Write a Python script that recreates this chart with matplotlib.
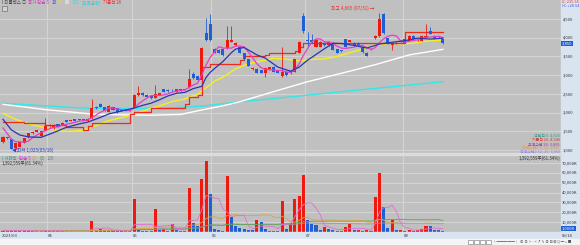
import matplotlib.pyplot as plt
import numpy as np
import pandas as pd
from matplotlib import transforms
from matplotlib.patches import Rectangle

plt.rcParams['font.family'] = ['Noto Sans CJK KR', 'DejaVu Sans']

# Daily candles (won)
opens = [1225, 1350, 1290, 1045, 1090, 1200, 1340, 1445, 1490, 1380,
         1520, 1650, 1580, 1686, 1668, 1800, 1775, 1820, 1830, 1820,
         1784, 1846, 2140, 2220, 2140, 2023, 2140, 2113, 2060, 2080,
         2075, 2130, 2470, 2532, 2470, 2443, 2398, 2470, 2621, 2600,
         2600, 2558, 2585, 2600, 2675, 3031, 2977, 2870, 4134, 4367,
         3691, 3672, 3691, 3717, 3894, 3806, 3761, 3584, 3420, 3160,
         3164, 3130, 3050, 3156, 3225, 3137, 2990, 3090, 3050, 3090,
         3600, 4589, 3950, 3940, 3760, 3760, 3868, 3806, 3868, 3690,
         3660, 3957, 3894, 3868, 3868, 3745, 3600, 3690, 3984, 4046,
         4634, 3984, 3806, 3850, 3920, 3957, 3920, 4046, 3930, 3920,
         4030, 4180, 4046, 4010, 3957]
highs = [1380, 1360, 1300, 1190, 1230, 1320, 1460, 1500, 1545, 1520,
         1846, 1700, 1690, 1700, 1740, 1810, 1800, 1830, 1840, 1830,
         1850, 2363, 2180, 2260, 2160, 2190, 2160, 2130, 2080, 2090,
         2090, 2490, 2710, 2560, 2490, 2460, 2737, 2530, 2640, 2620,
         2620, 2640, 2630, 2640, 3156, 3080, 3000, 3750, 4519, 4634,
         3720, 3690, 3710, 4313, 4313, 3890, 3780, 3600, 3440, 3220,
         3180, 3150, 3200, 3230, 3240, 3150, 3760, 3110, 3120, 3440,
         3910, 4650, 4160, 4100, 3960, 3910, 3890, 3910, 3880, 3700,
         3680, 3970, 3950, 3880, 3880, 3760, 3610, 3720, 4060, 4665,
         4665, 4000, 3880, 3880, 3930, 3970, 4060, 4060, 3960, 4060,
         4367, 4290, 4060, 4040, 3970]
lows = [1200, 1290, 1025, 1030, 1080, 1190, 1330, 1430, 1480, 1370,
        1510, 1620, 1570, 1610, 1660, 1750, 1765, 1775, 1790, 1780,
        1775, 1840, 2100, 2140, 2030, 2010, 2060, 2000, 2030, 2040,
        2030, 2120, 2440, 2450, 2410, 2370, 2390, 2460, 2540, 2550,
        2580, 2550, 2575, 2590, 2660, 2900, 2850, 2860, 3900, 3900,
        3580, 3590, 3520, 3700, 3880, 3790, 3580, 3410, 3240, 3140,
        3050, 3050, 2950, 3140, 3080, 3050, 2960, 2980, 3040, 3080,
        3580, 4126, 3760, 3850, 3740, 3740, 3790, 3790, 3660, 3580,
        3620, 3740, 3880, 3790, 3790, 3600, 3500, 3680, 3960, 4030,
        4100, 3820, 3670, 3840, 3880, 3860, 3910, 3950, 3920, 3910,
        4000, 4090, 3970, 4000, 3840]
closes = [1350, 1310, 1030, 1180, 1220, 1310, 1445, 1490, 1534, 1510,
          1640, 1660, 1668, 1624, 1730, 1757, 1790, 1784, 1800, 1790,
          1837, 2113, 2130, 2157, 2050, 2176, 2069, 2023, 2050, 2050,
          2040, 2470, 2532, 2470, 2424, 2381, 2488, 2515, 2558, 2570,
          2595, 2621, 2621, 2625, 2897, 2916, 2870, 3734, 3939, 3939,
          3600, 3600, 3538, 3939, 3939, 3868, 3600, 3430, 3250, 3190,
          3064, 3070, 3185, 3210, 3090, 3064, 3080, 3000, 3110, 3430,
          3894, 4190, 3920, 3890, 3940, 3894, 3806, 3894, 3672, 3600,
          3640, 3760, 3940, 3806, 3806, 3610, 3512, 3700, 4046, 4492,
          4117, 3832, 3868, 3870, 3890, 3868, 4046, 3957, 3950, 4046,
          4040, 4100, 3984, 4030, 3850]

# Volume (thousand shares)
volume = [1500, 1200, 2000, 1800, 1200, 1000, 1300, 900, 800, 1000,
          2500, 1000, 800, 700, 900, 700, 600, 700, 600, 700,
          1200, 11600, 2200, 2700, 2300, 1500, 1200, 1000, 800, 700,
          900, 33300, 2200, 1500, 1200, 1000, 23100, 2300, 3500, 1400,
          8300, 2000, 1400, 1000, 44400, 9600, 5600, 53500, 72000, 38600,
          2900, 1800, 1400, 56800, 15700, 6300, 4000, 2700, 2000, 1800,
          12300, 10600, 2700, 1000, 800, 700, 31900, 2700, 9000, 33000,
          36000, 57800, 12300, 8000, 7000, 2000, 5000, 3300, 2000, 1200,
          1000, 5400, 7800, 2000, 2000, 1500, 2000, 1500, 35200, 59500,
          25100, 3700, 12300, 2000, 2100, 1500, 2000, 1500, 2400, 3400,
          6000, 5800, 2000, 1600, 1000]

# Moving averages of the close
ma5 = [1590, 1440, 1290, 1220, 1218, 1210, 1237, 1329, 1400, 1458,
       1524, 1567, 1602, 1620, 1664, 1688, 1714, 1737, 1772, 1784,
       1802, 1865, 1934, 2005, 2057, 2125, 2116, 2095, 2074, 2074,
       2046, 2127, 2228, 2312, 2387, 2455, 2459, 2456, 2473, 2502,
       2545, 2572, 2593, 2606, 2672, 2736, 2786, 3008, 3271, 3480,
       3616, 3762, 3723, 3723, 3723, 3777, 3777, 3755, 3617, 3468,
       3307, 3201, 3152, 3146, 3138, 3123, 3126, 3089, 3069, 3137,
       3303, 3525, 3709, 3887, 3967, 3968, 3890, 3887, 3841, 3773,
       3722, 3713, 3732, 3749, 3790, 3792, 3735, 3687, 3735, 3872,
       3973, 4037, 4071, 4046, 3916, 3880, 3908, 3926, 3942, 3991,
       4008, 4019, 4024, 4040, 4002]
ma10_idx = [0, 2, 4, 6, 9, 12, 15, 18, 20, 23, 25, 27, 29, 31, 33, 35, 37, 39,
            41, 43, 45, 47, 48, 49, 50, 52, 54, 55, 57, 60, 62, 65, 68, 70,
            72, 74, 76, 78, 80, 83, 86, 89, 92, 95, 98, 101, 104]
ma10_val = [1820, 1534, 1400, 1350, 1338, 1466, 1606, 1696, 1744, 1869,
            1963, 2015, 2066, 2122, 2193, 2251, 2342, 2445, 2515, 2540,
            2641, 2701, 2939, 3076, 3176, 3366, 3601, 3697, 3739, 3542,
            3454, 3215, 3106, 3213, 3399, 3552, 3707, 3853, 3845, 3795,
            3724, 3831, 3879, 3920, 3989, 3964, 3987]
ma20_idx = [0, 3, 6, 9, 12, 15, 17, 19, 22, 25, 28, 31, 34, 37, 40, 43, 46,
            48, 50, 52, 55, 58, 61, 64, 67, 70, 73, 76, 79, 82, 85, 88, 91,
            94, 97, 100, 104]
ma20_val = [1980, 1820, 1700, 1620, 1540, 1495, 1505, 1531, 1651, 1784,
            1868, 1955, 2076, 2178, 2293, 2366, 2486, 2666, 2838, 2945,
            3169, 3305, 3381, 3449, 3430, 3378, 3424, 3435, 3500, 3601,
            3694, 3798, 3844, 3838, 3852, 3908, 3940]
ma60_idx = [0, 10, 22, 35, 42, 47, 52, 56, 64, 72, 80, 88, 96, 104]
ma60_val = [2220, 2080, 1950, 1930, 1950, 2070, 2180, 2290, 2560, 2825,
            3050, 3280, 3540, 3690]
ma120_idx = [0, 10, 20, 31, 40, 47, 56, 68, 80, 92, 104]
ma120_val = [2250, 2180, 2113, 2110, 2130, 2170, 2290, 2420, 2558, 2690, 2825]
# Ichimoku base line (기준선 26), step values
kijun_idx = [0, 5, 10, 15, 19, 20, 21, 30, 31, 35, 43, 44, 46, 47, 49, 56,
             57, 62, 63, 69, 70, 71, 93, 95, 104]
kijun_val = [1750, 1710, 1660, 1620, 1534, 1641, 1730, 1957, 2023, 2113,
             2220, 2424, 2470, 3220, 3308, 3400, 3500, 3550, 3590, 3640,
             3740, 3850, 3870, 4140, 4140]

# Axis labels
month_pos = [10.4, 30.5, 49.2, 71.4, 94.6]
month_labels = ['04', '05', '06', '07', '08']
first_label = '2023/03'
price_ticks = [1000, 1500, 2000, 2500, 3000, 3500, 4000, 4500]
vol_ticks = [10000, 20000, 30000, 40000, 50000, 60000, 70000]

# Colours
BG = '#c0c0c0'
GRID = '#d3d3d3'
SIDE = '#d9e4f0'
RED = '#f0190f'
BLUE = '#1f5fd6'

W, H = 580, 245
fig = plt.figure(figsize=(W / 100, H / 100), dpi=100)
fig.patch.set_facecolor(BG)
rend = fig.canvas.get_renderer()


def fx(px):
    return px / W


def fy(py):
    return 1 - py / H


def seq_text(px, py, parts, fs, gap=2.0):
    # place coloured pieces one after the other on a line
    for s, cl in parts:
        t = fig.text(fx(px), fy(py), s, color=cl, fontsize=fs, va='center', ha='left')
        px = t.get_window_extent(renderer=rend).x1 + gap


PANEL_R = 561
ax_p = fig.add_axes([0, fy(153), fx(PANEL_R), 153 / H])
ax_v = fig.add_axes([0, fy(232), fx(PANEL_R), (232 - 155) / H])

# side column, date strip, toolbar
fig.patches.append(Rectangle((fx(PANEL_R), 0), 1 - fx(PANEL_R), 1,
                             transform=fig.transFigure, color=SIDE, zorder=0))
fig.patches.append(Rectangle((0, fy(239)), 1, (239 - 232) / H,
                             transform=fig.transFigure, color=SIDE, zorder=0))
fig.patches.append(Rectangle((0, 0), 1, 6 / H,
                             transform=fig.transFigure, color='#f4f4f4', zorder=0))
fig.patches.append(Rectangle((0, fy(155)), fx(PANEL_R), 2 / H,
                             transform=fig.transFigure, color='#dcdcdc', zorder=0))
# toolbar buttons
for px in [468, 474, 480, 486]:
    fig.patches.append(Rectangle((fx(px), fy(244)), 5 / W, 4 / H, transform=fig.transFigure,
                                 facecolor='#ffffff', edgecolor='#707070', lw=0.4))
fig.text(fx(493), fy(241.8), '├─────┤  ⊕ ⊖  ⊢ ⊣ ↗ ✎ ⊕ ⊟ ⊞ Q ─ + ■', fontsize=2.6,
         va='center', color='#555555')

x = np.arange(len(closes))
o = np.array(opens)
c = np.array(closes)
xlim = (-3 / 4.23, (PANEL_R - 3) / 4.23)

for ax in (ax_p, ax_v):
    ax.set_facecolor(BG)
    ax.set_xlim(*xlim)
    ax.set_xticks(month_pos)
    ax.grid(True, color=GRID, lw=0.8)
    ax.set_axisbelow(True)
    ax.tick_params(length=0, labelbottom=False, labelleft=False)
    for s in ax.spines.values():
        s.set_visible(False)

# price panel
ax_p.set_ylim(1000 - (153 - 150) * 26.72, 1000 + 150 * 26.72)
ax_p.set_yticks(price_ticks)

ax_p.plot(ma120_idx, ma120_val, color='#30e8e8', lw=1.0, zorder=2)
ax_p.plot(ma60_idx, ma60_val, color='#ffffff', lw=1.0, zorder=2)
ax_p.plot(ma20_idx, ma20_val, color='#f5f019', lw=1.0, zorder=2)
ax_p.step(kijun_idx, kijun_val, where='post', color='#f02a1a', lw=0.9, zorder=2)

col = np.where(c >= o, RED, BLUE)
ax_p.vlines(x, lows, highs, colors=col, lw=0.6, zorder=3)
body_h = np.maximum(np.abs(c - o), 12)
ax_p.bar(x, body_h, bottom=np.minimum(o, c), width=0.72, color=col, lw=0, zorder=4)

ax_p.plot(x, ma5, color='#e83cc8', lw=0.9, zorder=5)
ax_p.plot(ma10_idx, ma10_val, color='#2a36b0', lw=0.9, zorder=5)

# max / min markers
hi = int(np.argmax(highs))
lo = int(np.argmin(lows))
ax_p.text(hi - 1.2, highs[hi] + 110, f'최고 {max(highs):,} (07/31) →', color='#e8332a',
          fontsize=3.4, ha='right', va='center', zorder=6)
ax_p.text(lo + 0.2, lows[lo] - 30, f'◀최저 {min(lows):,}(03/16)', color='#3440c8',
          fontsize=3.4, ha='left', va='center', zorder=6)

# legends
fs = 3.2
seq_text(2, 3, [('I 티플렉스 ○', '#444444'), ('종가 단순 5', '#d23cc0'), ('10', '#3040c0'),
                ('20', '#e8e020'), ('60', '#ffffff'), ('120', '#30e0e0'),
                ('[일목균형]', '#30d0e0'), ('기준선 26', '#e83030')], fs)
fig.patches.append(Rectangle((fx(2), fy(11)), 5 / W, 5 / H, transform=fig.transFigure,
                             facecolor='#d0d0d0', edgecolor='#606060', lw=0.4))

seq_text(2, 158, [('I 거래량', '#2a9a8a'), ('단순 5', '#c040c0'), ('20', '#e0a040'),
                  ('60', '#50a050'), ('120', '#808080')], fs)
fig.text(fx(2), fy(163), '1,392,559주(61.34%)', color='#333333', fontsize=fs,
         va='center', ha='left')
fig.text(fx(560), fy(158), '1,392,559주(61.34%)', color='#333333', fontsize=fs,
         va='center', ha='right')

ichi = [(136, '전환선 9: 4,026', '#2a9a8a'), (140, '기준선 26: 4,046', '#e83030'),
        (144, '후행스팬 26: 3,850', '#a030c8'), (148, '선행스팬1 9, 26: 3,987', '#e09a60'),
        (152, '선행스팬2 52, 26: 3,060', '#8a8ae0')]
for py, s, cl in ichi:
    fig.text(fx(560), fy(py), s, color=cl, fontsize=2.8, va='center', ha='right')

# right axis labels
fsr = 3.0
tp = transforms.blended_transform_factory(fig.transFigure, ax_p.transData)
for v in price_ticks:
    fig.text(fx(563), v, f'{v:,}', transform=tp, fontsize=fsr, va='center',
             ha='left', color='#333333')
tv = transforms.blended_transform_factory(fig.transFigure, ax_v.transData)
for v in vol_ticks:
    fig.text(fx(562), v, f'{v:,}K', transform=tv, fontsize=fsr, va='center',
             ha='left', color='#333333')

fig.text(fx(561.5), fy(1.8), 'LC:235.94', color='#e04040', fontsize=2.8, va='center')
fig.text(fx(561.5), fy(5.6), 'HC:+28.54', color='#4060d0', fontsize=2.8, va='center')
last = closes[-1]
fig.text(fx(562), last, f'{last:,}', transform=tp, color='white', fontsize=fsr,
         va='center', ha='left', bbox=dict(boxstyle='square,pad=0.15', fc=BLUE, ec='none'))

# volume panel
ax_v.set_ylim(0, 78000)
ax_v.set_yticks(vol_ticks)
vol = pd.Series(volume, dtype=float)
vcol = np.where(vol.diff().fillna(1) >= 0, RED, BLUE)
ax_v.bar(x, vol, width=0.72, color=vcol, lw=0, zorder=3)
for n, cl in [(120, '#9a9a9a'), (60, '#58a858'), (20, '#e0a040'), (5, '#e070d0')]:
    ax_v.plot(x, vol.rolling(n, min_periods=1).mean(), color=cl, lw=0.6, zorder=4)
fig.text(fx(562), vol.iloc[-1] + 2500, f'{int(vol.iloc[-1]):,}K', transform=tv,
         color='white', fontsize=fsr, va='center', ha='left',
         bbox=dict(boxstyle='square,pad=0.15', fc=BLUE, ec='none'))

# date labels
td = transforms.blended_transform_factory(ax_v.transData, fig.transFigure)
fig.text(fx(2), fy(235.5), first_label, fontsize=fsr, va='center', color='#333333')
for p, s in zip(month_pos, month_labels):
    fig.text(p + 0.2, fy(235.5), s, transform=td, fontsize=fsr, va='center', color='#333333')
fig.text(fx(562), fy(235.5), '09/14', fontsize=fsr, va='center', color='#333333')

fig.savefig('out.png', dpi=100, facecolor=fig.get_facecolor())
